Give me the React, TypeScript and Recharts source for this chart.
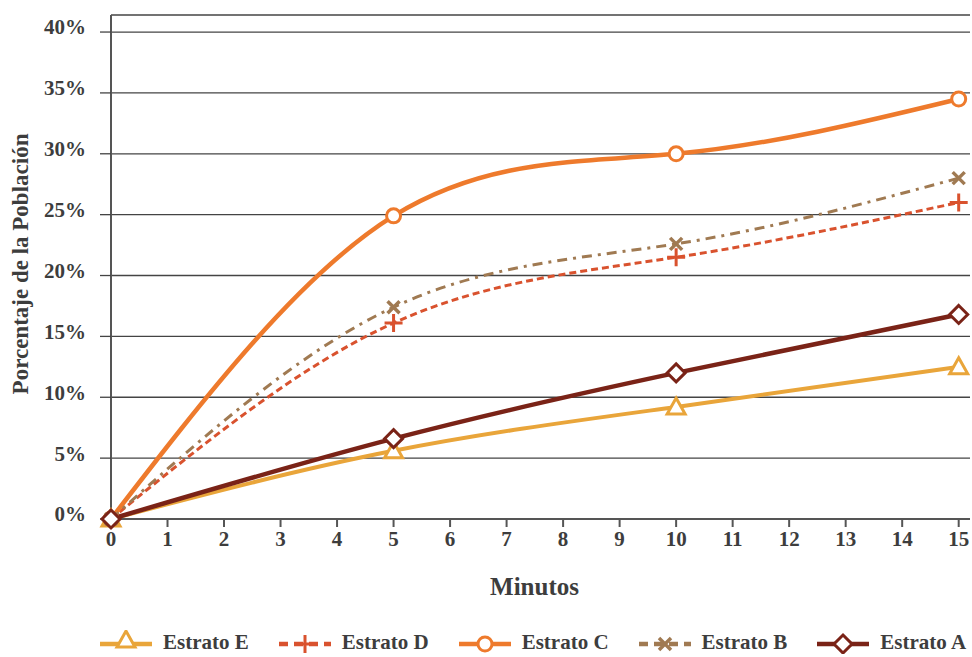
import { LineChart, Line, XAxis, YAxis, CartesianGrid, Legend } from 'recharts';

// minutos y porcentaje de la población por estrato
const minutes = [0, 5, 10, 15];
const estratoE = [0, 5.6, 9.2, 12.5];
const estratoD = [0, 16.1, 21.5, 26.0];
const estratoC = [0, 24.9, 30.0, 34.5];
const estratoB = [0, 17.4, 22.6, 28.0];
const estratoA = [0, 6.6, 12.0, 16.8];

const xTicks = [0, 1, 2, 3, 4, 5, 6, 7, 8, 9, 10, 11, 12, 13, 14, 15];
const yTicks = [0, 5, 10, 15, 20, 25, 30, 35, 40];

const data = minutes.map((m, i) => ({
  m,
  E: estratoE[i],
  D: estratoD[i],
  C: estratoC[i],
  B: estratoB[i],
  A: estratoA[i],
}));

type MarkerType = 'triangle' | 'plus' | 'circle' | 'cross' | 'diamond';

const SERIES: {
  key: string;
  name: string;
  color: string;
  width: number;
  dash?: string;
  legendDash?: string;
  marker: MarkerType;
}[] = [
  { key: 'E', name: 'Estrato E', color: '#E9A53A', width: 4, marker: 'triangle' },
  { key: 'D', name: 'Estrato D', color: '#D9522E', width: 3, dash: '7 4', legendDash: '9 6', marker: 'plus' },
  { key: 'C', name: 'Estrato C', color: '#EE7A2C', width: 4.5, marker: 'circle' },
  { key: 'B', name: 'Estrato B', color: '#A07A52', width: 3, dash: '10 6 3 6', legendDash: '9 6', marker: 'cross' },
  { key: 'A', name: 'Estrato A', color: '#7A2317', width: 4.5, marker: 'diamond' },
];

const FONT = "'Liberation Serif', 'DejaVu Serif', serif";
const TEXT = '#3d3d3d';

function Marker({ type, cx, cy, color }: { type: MarkerType; cx: number; cy: number; color: string }) {
  switch (type) {
    case 'triangle':
      return (
        <polygon
          points={`${cx},${cy - 9} ${cx + 9},${cy + 7} ${cx - 9},${cy + 7}`}
          fill="#fff"
          stroke={color}
          strokeWidth={3}
        />
      );
    case 'plus':
      return (
        <path
          d={`M${cx - 9},${cy}H${cx + 9}M${cx},${cy - 9}V${cy + 9}`}
          stroke={color}
          strokeWidth={3}
          fill="none"
        />
      );
    case 'circle':
      return <circle cx={cx} cy={cy} r={7} fill="#fff" stroke={color} strokeWidth={3} />;
    case 'cross':
      return (
        <path
          d={`M${cx - 6},${cy - 6}L${cx + 6},${cy + 6}M${cx + 6},${cy - 6}L${cx - 6},${cy + 6}`}
          stroke={color}
          strokeWidth={3.5}
          fill="none"
        />
      );
    default:
      return (
        <path
          d={`M${cx},${cy - 9}L${cx + 9},${cy}L${cx},${cy + 9}L${cx - 9},${cy}Z`}
          fill="#fff"
          stroke={color}
          strokeWidth={3}
        />
      );
  }
}

function LegendContent() {
  return (
    <div style={{ display: 'flex', alignItems: 'center', height: 30, fontFamily: FONT, whiteSpace: 'nowrap' }}>
      {SERIES.map((s, i) => (
        <div
          key={s.key}
          style={{ display: 'flex', alignItems: 'center', flexShrink: 0, marginLeft: i === 0 ? 0 : 30 }}
        >
          <svg width={52} height={24} style={{ flexShrink: 0 }}>
            <line
              x1={0}
              y1={14}
              x2={52}
              y2={14}
              stroke={s.color}
              strokeWidth={4.5}
              strokeDasharray={s.legendDash}
            />
            <Marker type={s.marker} cx={26} cy={s.marker === 'triangle' ? 10 : 14} color={s.color} />
          </svg>
          <span style={{ marginLeft: 11, fontSize: 21, fontWeight: 'bold', color: TEXT }}>{s.name}</span>
        </div>
      ))}
    </div>
  );
}

const XTitle = (props: any) => {
  const vb = props.viewBox || { x: 111, y: 519, width: 859 };
  return (
    <text
      x={vb.x + vb.width / 2 - 6}
      y={vb.y + 76}
      textAnchor="middle"
      fontFamily={FONT}
      fontWeight="bold"
      fontSize={25}
      fill={TEXT}
    >
      Minutos
    </text>
  );
};

const YTitle = () => (
  <text
    x={28}
    y={264}
    transform="rotate(-90 28 264)"
    textAnchor="middle"
    fontFamily={FONT}
    fontWeight="bold"
    fontSize={23}
    fill={TEXT}
  >
    Porcentaje de la Población
  </text>
);

export default function App() {
  return (
    <div style={{ position: 'absolute', left: 0, top: 0, background: '#fff' }}>
      <LineChart width={972} height={657} data={data} margin={{ top: 15, right: 2, left: 0, bottom: 0 }}>
        <CartesianGrid vertical={false} stroke="#444" strokeWidth={1.3} />
        <XAxis
          dataKey="m"
          type="number"
          domain={[0, 15.2]}
          ticks={xTicks}
          interval={0}
          height={108}
          tickSize={8}
          tickMargin={4}
          axisLine={{ stroke: '#555', strokeWidth: 2 }}
          tickLine={{ stroke: '#555', strokeWidth: 2 }}
          tick={{ fill: TEXT, fontSize: 21, fontFamily: FONT, fontWeight: 'bold' }}
          label={{ content: XTitle }}
        />
        <YAxis
          type="number"
          domain={[0, 41.4]}
          ticks={yTicks}
          interval={0}
          width={111}
          tickSize={11}
          tickMargin={14}
          tickFormatter={(v) => `${v}%`}
          axisLine={{ stroke: '#555', strokeWidth: 2 }}
          tickLine={{ stroke: '#444', strokeWidth: 1.3 }}
          tick={{ fill: TEXT, fontSize: 21, fontFamily: FONT, fontWeight: 'bold', dy: -5 }}
          label={{ content: YTitle }}
        />
        <Legend
          verticalAlign="bottom"
          content={LegendContent}
          wrapperStyle={{ left: 100, bottom: 0, width: 872 }}
        />
        {SERIES.map((s) => (
          <Line
            key={s.key}
            dataKey={s.key}
            name={s.name}
            type="natural"
            stroke={s.color}
            strokeWidth={s.width}
            strokeDasharray={s.dash}
            isAnimationActive={false}
            dot={(p: any) => (
              <g key={`${s.key}-${p.index}`}>
                <Marker type={s.marker} cx={p.cx} cy={p.cy} color={s.color} />
              </g>
            )}
            activeDot={false}
          />
        ))}
      </LineChart>
    </div>
  );
}
